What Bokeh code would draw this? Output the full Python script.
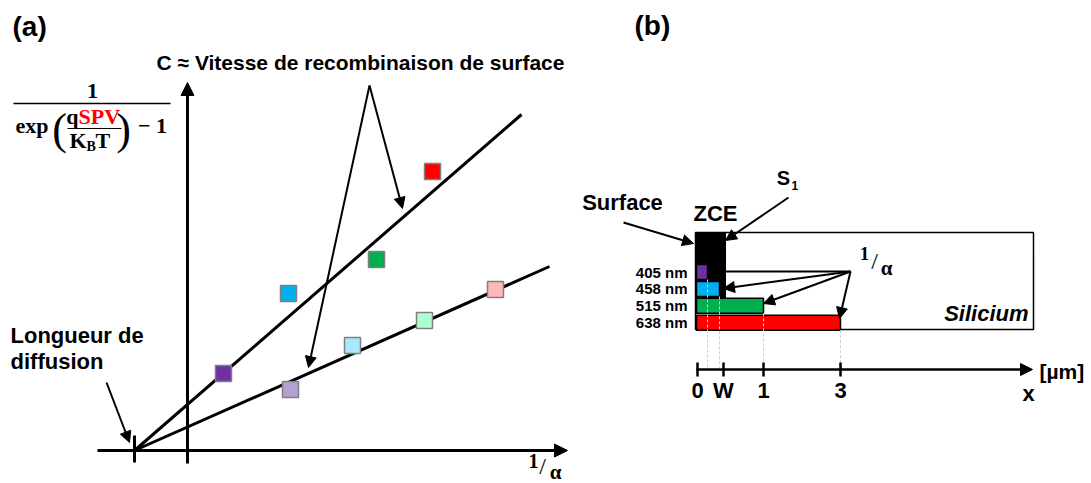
from bokeh.plotting import figure
from bokeh.models import Range1d, Arrow, NormalHead
from bokeh.layouts import row
from bokeh.core.properties import value
from bokeh.embed import file_html
from bokeh.resources import INLINE

# ---------------- data ----------------
# Panel (a): 1/alpha (x) vs 1/(exp(qSPV/KBT)-1) (y), arbitrary units
wavelengths = ["405 nm", "458 nm", "515 nm", "638 nm"]
colors_high = ["#7030A0", "#00B0F0", "#00B050", "#FF0000"]
colors_low = ["#B4A0D2", "#A9E8FB", "#AEFFD0", "#FFB7B7"]
inv_alpha_high = [0.72, 2.02, 3.78, 4.90]
signal_high = [1.54, 3.14, 3.82, 5.58]
inv_alpha_low = [2.06, 3.30, 4.74, 6.16]
signal_low = [1.22, 2.10, 2.60, 3.22]
diffusion_length = -1.06          # common x-intercept of the two fits
fit_end_x = [6.68, 7.24]          # steep fit, shallow fit
fit_end_y = [6.72, 3.68]

# Panel (b): penetration depth schematic (schematic axis units)
depth_end = [10, 22, 66, 143]     # 1/alpha for each wavelength
zce_width = 28
silicon_end = 336
tick_pos = [0, 26, 66, 143]
tick_labels = ["0", "W", "1", "3"]

SANS = value("Liberation Sans")
SERIF = value("Liberation Serif")
H = 483


def make_fig(w, xr, yr):
    f = figure(width=w, height=H, x_range=xr, y_range=yr,
               output_backend="svg", toolbar_location=None, min_border=0,
               x_axis_location=None, y_axis_location=None)
    f.grid.visible = False
    f.outline_line_color = None
    f.background_fill_color = "white"
    f.border_fill_color = "white"
    return f


def txt(f, x, y, s, size, align="center", baseline="middle", style="bold",
        color="black", font=SANS):
    f.text(x=[x], y=[y], text=[s], text_font=font, text_font_size=f"{size}px",
           text_font_style=style, text_color=color, text_align=align,
           text_baseline=baseline)


def arrow(f, x0, y0, x1, y1, lw=2.0, head=11):
    f.add_layout(Arrow(end=NormalHead(size=head, fill_color="black", line_color="black",
                                      line_width=1),
                       x_start=x0, y_start=y0, x_end=x1, y_end=y1,
                       line_width=lw, line_color="black"))


# ---------------- panel (a) ----------------
pa = make_fig(576, Range1d(-3.74, 7.78), Range1d(-0.66, 9.0))

# axes
arrow(pa, 0, -0.26, 0, 7.36, lw=3, head=13)
arrow(pa, -1.8, 0, 7.6, 0, lw=3, head=13)
pa.segment(x0=[diffusion_length], y0=[0.3], x1=[diffusion_length], y1=[-0.24],
           line_width=3, line_color="black")

# fitted lines
pa.segment(x0=[diffusion_length] * 2, y0=[0, 0], x1=fit_end_x, y1=fit_end_y,
           line_width=3, line_color="black")

# measured points
pa.scatter(x=inv_alpha_high, y=signal_high, marker="square", size=16,
           fill_color=colors_high, line_color="#7F7F7F", line_width=1.5)
pa.scatter(x=inv_alpha_low, y=signal_low, marker="square", size=16,
           fill_color=colors_low, line_color="#7F7F7F", line_width=1.5)

# annotations
txt(pa, -3.5, 8.48, "(a)", 28, align="left")
txt(pa, 3.46, 7.76, "C \u2248 Vitesse de recombinaison de surface", 21)
arrow(pa, 3.64, 7.30, 2.42, 1.66)
arrow(pa, 3.64, 7.30, 4.30, 4.84)
txt(pa, -3.54, 2.30, "Longueur de", 22, align="left")
txt(pa, -3.54, 1.78, "diffusion", 22, align="left")
arrow(pa, -1.62, 1.36, -1.16, 0.16)

# y-axis formula: 1 / (exp(qSPV/KBT) - 1)
txt(pa, -1.9, 7.2, "1", 22, font=SERIF)
pa.segment(x0=[-3.48], y0=[6.94], x1=[-0.34], y1=[6.94], line_width=1.5, line_color="black")
txt(pa, -3.44, 6.5, "exp", 22, align="left", font=SERIF)
txt(pa, -2.56, 6.42, "(", 44, style="normal", font=SERIF)
txt(pa, -2.18, 6.69, "q", 22, align="right", font=SERIF)
txt(pa, -2.18, 6.69, "SPV", 22, align="left", font=SERIF, color="#FF0000")
pa.segment(x0=[-2.40], y0=[6.44], x1=[-1.32], y1=[6.44], line_width=1.2, line_color="black")
txt(pa, -2.02, 6.2, "K", 22, align="right", font=SERIF)
txt(pa, -2.02, 6.08, "B", 14, align="left", font=SERIF)
txt(pa, -1.84, 6.2, "T", 22, align="left", font=SERIF)
txt(pa, -1.28, 6.42, ")", 44, style="normal", font=SERIF)
txt(pa, -0.70, 6.5, "\u2212 1", 22, font=SERIF)

# x-axis label 1/alpha
txt(pa, 6.92, -0.2, "1", 20, font=SERIF)
txt(pa, 7.10, -0.3, "/", 24, style="normal", font=SERIF)
txt(pa, 7.36, -0.42, "\u03b1", 21, font=SERIF)

# ---------------- panel (b) ----------------
pb = make_fig(515, Range1d(-121, 394), Range1d(H, 0))

row_center = [271.5 + 16.9 * i for i in range(len(wavelengths))]
bar_top = [c - 7.5 for c in row_center]
bar_bot = [c + 7.5 for c in row_center]

# silicon block and space-charge zone
pb.quad(left=[-2], right=[silicon_end], top=[232], bottom=[329],
        fill_color=None, line_color="black", line_width=1.5)
pb.quad(left=[-2], right=[zce_width], top=[232], bottom=[298],
        fill_color="black", line_color="black", line_width=1)

# penetration bars
pb.quad(left=[-1] * 4, right=depth_end, top=bar_top, bottom=bar_bot,
        fill_color=colors_high, line_color="black", line_width=1.5)

# projections to the depth axis
pb.segment(x0=depth_end, y0=bar_bot, x1=depth_end, y1=[368] * 4,
           line_color="#D0D0D0", line_width=1, line_dash="3 2")

# depth axis
arrow(pb, -1, 369, 335, 369, lw=2.5, head=12)
pb.segment(x0=tick_pos, y0=[362] * 4, x1=tick_pos, y1=[376] * 4,
           line_width=2.5, line_color="black")
pb.text(x=tick_pos, y=[390] * 4, text=tick_labels, text_font=SANS,
        text_font_size="22px", text_font_style="bold", text_align="center",
        text_baseline="middle")
txt(pb, 342, 371, "[\u00b5m]", 21, align="left")
txt(pb, 331, 393, "x", 22)

# wavelength labels
pb.text(x=[-10] * 4, y=row_center, text=wavelengths, text_font=SANS,
        text_font_size="15px", text_font_style="bold", text_align="right",
        text_baseline="middle")

txt(pb, -63, 25, "(b)", 28, align="left")
txt(pb, -75, 202, "Surface", 22)
arrow(pb, -74, 222, -4, 243)
txt(pb, 18, 213, "ZCE", 22)
txt(pb, 86, 177, "S", 20)
txt(pb, 94, 185, "1", 12, align="left")
arrow(pb, 91, 197, 28, 240)
txt(pb, 331, 313, "Silicium", 22, align="right", style="bold italic")

# 1/alpha label and arrows
txt(pb, 167, 253, "1", 19, font=SERIF)
txt(pb, 177, 260, "/", 24, style="normal", font=SERIF)
txt(pb, 189, 267, "\u03b1", 21, font=SERIF)
arrow(pb, 153, 271, 17, 271)
arrow(pb, 153, 271, 26, 288)
arrow(pb, 153, 271, 66, 303)
arrow(pb, 153, 271, depth_end[3] - 1, 318)

layout = row(pa, pb)
open("out.html", "w").write(file_html(layout, INLINE))
